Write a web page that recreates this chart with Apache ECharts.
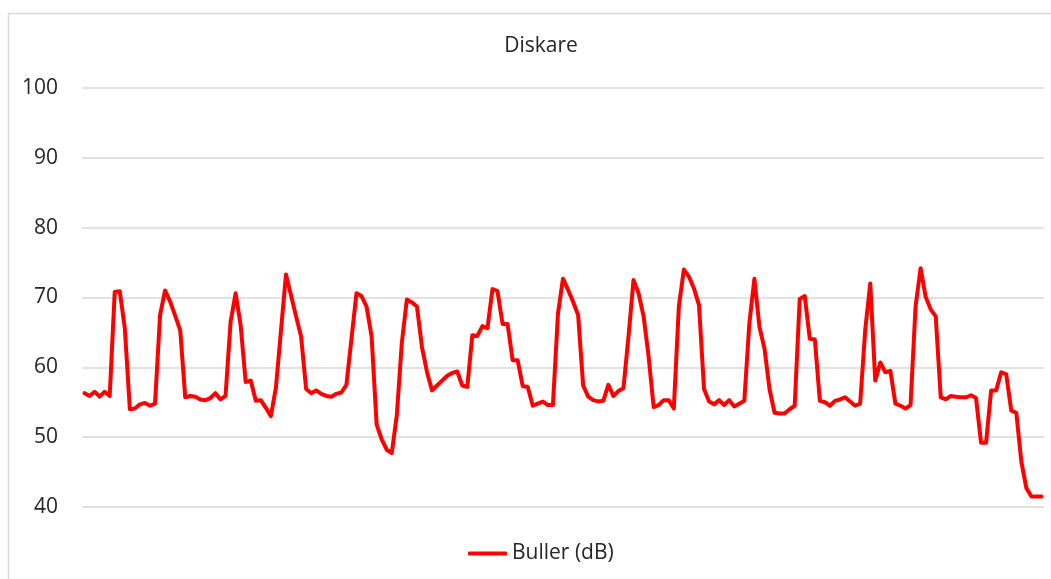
<!DOCTYPE html>
<html>
<head>
<meta charset="utf-8">
<title>Diskare</title>
<script src="https://cdn.jsdelivr.net/npm/echarts@6/dist/echarts.min.js"></script>
<style>
  html, body { margin: 0; padding: 0; background: #ffffff; }
  #chart { width: 1051px; height: 579px; }
</style>
</head>
<body>
<div id="chart"></div>
<script>
// Noise level readings (dB), one value per measurement
const bullerDb = [
  56.3, 55.9, 56.5, 55.8, 56.5, 55.9, 70.8, 70.9, 65.6, 54.0,
  54.1, 54.7, 54.9, 54.5, 54.8, 67.5, 71.0, 69.4, 67.4, 65.3,
  55.7, 55.9, 55.8, 55.4, 55.3, 55.6, 56.3, 55.4, 55.9, 66.5,
  70.6, 66.0, 57.9, 58.1, 55.2, 55.3, 54.2, 53.0, 57.1, 65.2,
  73.3, 70.3, 67.3, 64.4, 56.9, 56.3, 56.7, 56.2, 55.9, 55.8,
  56.2, 56.4, 57.5, 64.1, 70.6, 70.2, 68.7, 64.4, 51.8, 49.7,
  48.2, 47.7, 53.1, 63.5, 69.7, 69.3, 68.7, 62.9, 59.3, 56.7,
  57.4, 58.1, 58.8, 59.2, 59.4, 57.4, 57.2, 64.6, 64.5, 65.9,
  65.6, 71.2, 70.9, 66.2, 66.2, 61.0, 61.0, 57.3, 57.2, 54.5,
  54.8, 55.1, 54.6, 54.6, 67.7, 72.7, 71.1, 69.4, 67.5, 57.4,
  55.8, 55.3, 55.1, 55.2, 57.5, 55.9, 56.6, 57.0, 64.4, 72.5,
  70.6, 67.3, 61.5, 54.3, 54.6, 55.3, 55.3, 54.1, 68.7, 74.0,
  73.0, 71.3, 68.9, 56.9, 55.1, 54.7, 55.3, 54.6, 55.3, 54.4,
  54.8, 55.2, 66.3, 72.7, 65.8, 62.7, 56.9, 53.5, 53.4, 53.4,
  54.0, 54.5, 69.8, 70.2, 64.1, 64.0, 55.2, 55.0, 54.5, 55.2,
  55.4, 55.7, 55.1, 54.5, 54.8, 65.3, 72.0, 58.1, 60.7, 59.3,
  59.5, 54.8, 54.5, 54.1, 54.6, 68.7, 74.2, 70.1, 68.3, 67.3,
  55.7, 55.4, 55.9, 55.8, 55.7, 55.7, 56.0, 55.6, 49.2, 49.2,
  56.7, 56.7, 59.3, 59.0, 53.8, 53.5, 46.5, 42.7, 41.5, 41.5,
  41.5
];

// Measurement numbers along the (unlabelled) category axis
const measurements = bullerDb.map((_, i) => String(i + 1));

// Value axis range and step
const yMin = 40;
const yMax = 100;
const yStep = 10;

const seriesName = 'Buller (dB)';
const chartTitle = 'Diskare';

const FONT = '"Open Sans", "Noto Sans", sans-serif';
const TEXT_COLOR = '#262626';
const GRID_COLOR = '#d9d9d9';

const chart = echarts.init(document.getElementById('chart'), null, { renderer: 'canvas' });

chart.setOption({
  backgroundColor: '#ffffff',
  animation: false,
  title: {
    text: chartTitle,
    left: 536,
    textAlign: 'center',
    top: 31,
    textStyle: { fontFamily: FONT, fontSize: 21, fontWeight: 'normal', color: TEXT_COLOR }
  },
  graphic: [{
    type: 'rect',
    shape: { x: 8.5, y: 13.5, width: 1200, height: 800 },
    style: { fill: 'none', stroke: GRID_COLOR, lineWidth: 1.5 },
    silent: true
  }],
  grid: { left: 82, right: 7, top: 88, bottom: 72 },
  legend: {
    data: [seriesName],
    bottom: 10,
    left: 463,
    icon: 'roundRect',
    itemWidth: 39,
    itemHeight: 4,
    textStyle: { fontFamily: FONT, fontSize: 21, color: TEXT_COLOR }
  },
  xAxis: {
    type: 'category',
    data: measurements,
    boundaryGap: true,
    axisLine: { show: false },
    axisTick: { show: false },
    axisLabel: { show: false },
    splitLine: { show: false }
  },
  yAxis: {
    type: 'value',
    min: yMin,
    max: yMax,
    interval: yStep,
    axisLine: { show: false },
    axisTick: { show: false },
    axisLabel: { fontFamily: FONT, fontSize: 21, color: TEXT_COLOR, margin: 24 },
    splitLine: { lineStyle: { color: GRID_COLOR, width: 1.5 } }
  },
  series: [{
    name: seriesName,
    type: 'line',
    data: bullerDb,
    showSymbol: false,
    symbol: 'none',
    smooth: false,
    itemStyle: { color: '#ff0000' },
    lineStyle: { color: '#ff0000', width: 4, cap: 'round', join: 'round' }
  }]
});
</script>
</body>
</html>
